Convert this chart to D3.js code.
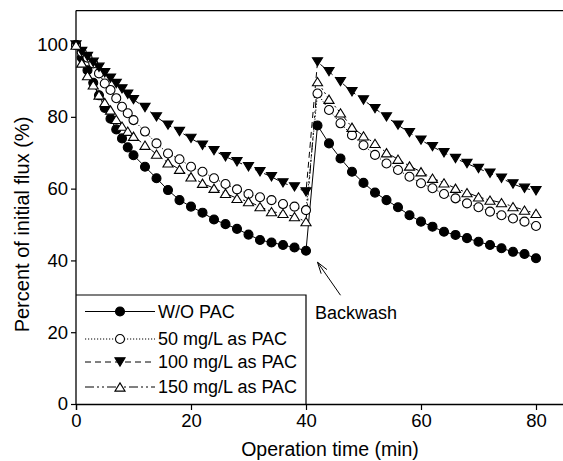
<!DOCTYPE html>
<html><head><meta charset="utf-8">
<script src="https://cdn.jsdelivr.net/npm/d3@7"></script>
<style>html,body{margin:0;padding:0;background:#fff}svg{display:block}</style>
</head><body><svg id="c" width="563" height="461"></svg>
<script>
const time = [0,1,2,3,4,5,6,7,8,9,10,12,14,16,18,20,22,24,26,28,30,32,34,36,38,40,
  42,44,46,48,50,52,54,56,58,60,62,64,66,68,70,72,74,76,78,80];
const woPAC = [100,96.5,93,89.5,86,82.5,79.5,76.5,74,71.5,69.3,66.1,62.9,59.6,56.8,55.0,53.3,51.4,50.1,48.8,47.2,45.7,45.0,44.3,43.6,42.7,
  77.6,72.6,68.4,64.7,61.6,58.9,56.8,54.8,52.6,50.8,49.4,48.0,47.1,46.2,45.2,44.3,43.4,42.4,41.8,40.6];
const pac50 = [100,98,96.5,94.9,92.1,89.3,87.5,85.2,82.8,81.0,79.1,75.9,72.6,69.8,68.2,66.1,64.7,62.9,61.3,59.8,58.5,57.6,56.8,55.7,55.0,54.0,
  86.5,81.9,78.2,74.9,72.1,69.4,67.0,65.2,63.3,61.5,60.1,58.5,57.3,55.9,54.8,53.6,52.6,51.7,50.8,49.6];
const pac100 = [100,98.2,96.8,95.2,93.8,92.3,90.8,89.3,87.8,86.3,84.8,82.6,80.0,77.7,75.9,74.0,72.1,70.6,68.9,67.5,66.1,64.7,63.3,61.6,60.5,59.1,
  95.3,92.6,89.8,87.0,84.7,82.3,80.0,77.7,75.6,73.5,71.7,70.0,68.4,67.0,65.6,64.3,62.9,61.3,60.1,59.4];
const pac150 = [100,95,91.5,88.9,86.1,84.0,81.9,79.3,77.4,76.0,74.6,72.1,69.6,67.2,65.4,63.3,61.5,60.1,58.7,57.3,56.4,55.0,53.6,53.1,52.2,50.8,
  89.8,84.9,81.1,77.1,74.7,72.6,70.0,68.2,66.3,64.7,62.9,61.6,60.1,58.9,57.7,56.8,56.1,55.0,54.0,53.1];
const seriesNames = ["W/O PAC","50 mg/L as PAC","100 mg/L as PAC","150 mg/L as PAC"];
const xTicks = [0,20,40,60,80];
const yTicks = [0,20,40,60,80,100];
const xTitle = "Operation time (min)";
const yTitle = "Percent of initial flux (%)";
const annotationText = "Backwash";
const arrowTip = [42, 39.5];
const arrowTail = [46, 30.3];

const svg = d3.select("#c");
const FONT = "'Liberation Sans', Arial, Helvetica, sans-serif";
const x = d3.scaleLinear().domain([0,85]).range([76, 564.75]);
const y = d3.scaleLinear().domain([0,109.6]).range([404, 10.6]);

const styles = [
  {dash:null, marker:"circle", fill:"#000"},
  {dash:"1.2,1.8", marker:"circle", fill:"#fff"},
  {dash:"6,4", marker:"down", fill:"#000"},
  {dash:"9,3,2,3,2,3", marker:"up", fill:"#fff"}
];
const data = [woPAC, pac50, pac100, pac150];

const g = svg.append("g");
g.append("line").attr("x1",x(0)).attr("x2",x(85)).attr("y1",y(109.6)).attr("y2",y(109.6)).attr("stroke","#000").attr("stroke-width",1.3);
g.append("line").attr("x1",x(85)).attr("x2",x(85)).attr("y1",y(109.6)).attr("y2",y(0)).attr("stroke","#000").attr("stroke-width",1.3);

const xAxis = d3.axisBottom(x).tickValues(xTicks).tickSizeOuter(0).tickSize(6).tickPadding(4);
const yAxis = d3.axisLeft(y).tickValues(yTicks).tickSizeOuter(0).tickSize(5).tickPadding(3);
const gx = svg.append("g").attr("transform",`translate(0,${y(0)})`).call(xAxis);
const gy = svg.append("g").attr("transform",`translate(${x(0)},0)`).call(yAxis);
[gx,gy].forEach(a=>{
  a.select(".domain").attr("stroke","#000").attr("stroke-width",1.3);
  a.selectAll(".tick line").attr("stroke","#000").attr("stroke-width",1.2);
  a.selectAll("text").attr("fill","#000").style("font-family",FONT).style("font-size","18.5px");
});
gy.select(".domain").attr("d",`M0,${y(0)}V${y(109.6)}`);

svg.append("text").attr("x",330).attr("y",456).attr("text-anchor","middle")
  .style("font-family",FONT).style("font-size","19.5px").text(xTitle);
svg.append("text").attr("transform",`translate(22,${(y(0)+y(100))/2}) rotate(-90)`).attr("text-anchor","middle")
  .attr("dy","0.35em").style("font-family",FONT).style("font-size","20px").text(yTitle);

function markerPath(type, s){
  if(type==="circle") return d3.symbol().type(d3.symbolCircle).size(Math.PI*s*s)();
  const h = s*1.8, w = s*2.2;
  if(type==="down") return `M${-w/2},${-h/2}L${w/2},${-h/2}L0,${h/2}Z`;
  return `M${-w/2},${h/2}L${w/2},${h/2}L0,${-h/2}Z`;
}

const line = d3.line().x((d,i)=>x(time[i])).y(d=>y(d));
data.forEach((vals,k)=>{
  const st = styles[k];
  svg.append("path").datum(vals).attr("d",line).attr("fill","none").attr("stroke","#000")
    .attr("stroke-width",1).attr("stroke-dasharray",st.dash);
});
data.forEach((vals,k)=>{
  const st = styles[k];
  svg.append("g").selectAll("path").data(vals).join("path")
    .attr("transform",(d,i)=>`translate(${x(time[i])},${y(d)})`)
    .attr("d",markerPath(st.marker, st.marker==="circle"?4.5:4.6))
    .attr("fill",st.fill).attr("stroke","#000").attr("stroke-width",1.1);
});

const lg = svg.append("g");
lg.append("path").attr("d",`M${x(0)},295H306V${y(0)}`).attr("fill","none").attr("stroke","#000").attr("stroke-width",1.2);
const rowsY = [311.5, 339, 362, 387];
seriesNames.forEach((name,k)=>{
  const st = styles[k];
  lg.append("line").attr("x1",85).attr("x2",155).attr("y1",rowsY[k]).attr("y2",rowsY[k])
    .attr("stroke","#000").attr("stroke-width",1).attr("stroke-dasharray",st.dash);
  lg.append("path").attr("transform",`translate(120,${rowsY[k]})`)
    .attr("d",markerPath(st.marker, st.marker==="circle"?4.5:4.6))
    .attr("fill",st.fill).attr("stroke","#000").attr("stroke-width",1.1);
  lg.append("text").attr("x",158).attr("y",rowsY[k]).attr("dy","0.35em")
    .style("font-family",FONT).style("font-size","18px").text(name);
});

svg.append("text").attr("x",315).attr("y",318.5).style("font-family",FONT).style("font-size","18px").text(annotationText);
const tx=x(arrowTip[0]), ty=y(arrowTip[1]), sx=x(arrowTail[0]), sy=y(arrowTail[1]);
svg.append("line").attr("x1",sx).attr("y1",sy).attr("x2",tx).attr("y2",ty).attr("stroke","#000").attr("stroke-width",1);
const ang = Math.atan2(sy-ty, sx-tx), L=12, sp=0.3;
svg.append("path").attr("d",`M${tx+L*Math.cos(ang+sp)},${ty+L*Math.sin(ang+sp)}L${tx},${ty}L${tx+L*Math.cos(ang-sp)},${ty+L*Math.sin(ang-sp)}`)
  .attr("fill","none").attr("stroke","#000").attr("stroke-width",1);
</script></body></html>
